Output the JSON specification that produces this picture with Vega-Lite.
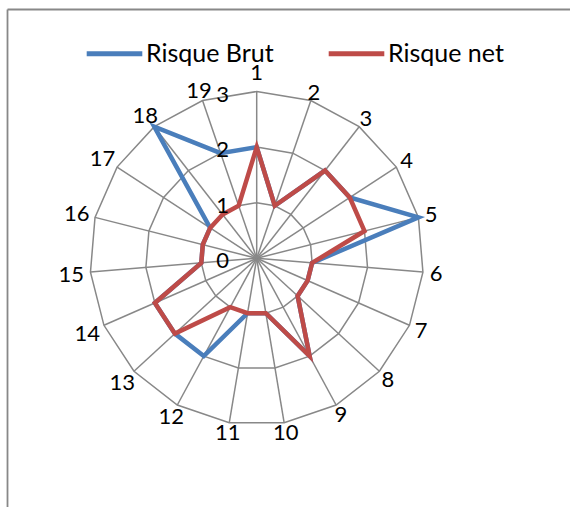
{
  "$schema": "https://vega.github.io/schema/vega-lite/v6.json",
  "width": 570,
  "height": 507,
  "autosize": "none",
  "padding": 0,
  "background": "white",
  "config": {"view": {"stroke": null}, "text": {"font": "Lato", "fontSize": 22, "color": "black"}},
  "datasets": {
    "risques": [
      {"axe": 1, "serie": "Risque Brut", "valeur": 2},
      {"axe": 2, "serie": "Risque Brut", "valeur": 1},
      {"axe": 3, "serie": "Risque Brut", "valeur": 2},
      {"axe": 4, "serie": "Risque Brut", "valeur": 2},
      {"axe": 5, "serie": "Risque Brut", "valeur": 3},
      {"axe": 6, "serie": "Risque Brut", "valeur": 1},
      {"axe": 7, "serie": "Risque Brut", "valeur": 1},
      {"axe": 8, "serie": "Risque Brut", "valeur": 1},
      {"axe": 9, "serie": "Risque Brut", "valeur": 2},
      {"axe": 10, "serie": "Risque Brut", "valeur": 1},
      {"axe": 11, "serie": "Risque Brut", "valeur": 1},
      {"axe": 12, "serie": "Risque Brut", "valeur": 2},
      {"axe": 13, "serie": "Risque Brut", "valeur": 2},
      {"axe": 14, "serie": "Risque Brut", "valeur": 2},
      {"axe": 15, "serie": "Risque Brut", "valeur": 1},
      {"axe": 16, "serie": "Risque Brut", "valeur": 1},
      {"axe": 17, "serie": "Risque Brut", "valeur": 1},
      {"axe": 18, "serie": "Risque Brut", "valeur": 3},
      {"axe": 19, "serie": "Risque Brut", "valeur": 2},
      {"axe": 1, "serie": "Risque net", "valeur": 2},
      {"axe": 2, "serie": "Risque net", "valeur": 1},
      {"axe": 3, "serie": "Risque net", "valeur": 2},
      {"axe": 4, "serie": "Risque net", "valeur": 2},
      {"axe": 5, "serie": "Risque net", "valeur": 2},
      {"axe": 6, "serie": "Risque net", "valeur": 1},
      {"axe": 7, "serie": "Risque net", "valeur": 1},
      {"axe": 8, "serie": "Risque net", "valeur": 1},
      {"axe": 9, "serie": "Risque net", "valeur": 2},
      {"axe": 10, "serie": "Risque net", "valeur": 1},
      {"axe": 11, "serie": "Risque net", "valeur": 1},
      {"axe": 12, "serie": "Risque net", "valeur": 1},
      {"axe": 13, "serie": "Risque net", "valeur": 2},
      {"axe": 14, "serie": "Risque net", "valeur": 2},
      {"axe": 15, "serie": "Risque net", "valeur": 1},
      {"axe": 16, "serie": "Risque net", "valeur": 1},
      {"axe": 17, "serie": "Risque net", "valeur": 1},
      {"axe": 18, "serie": "Risque net", "valeur": 1},
      {"axe": 19, "serie": "Risque net", "valeur": 1}
    ],
    "axes": [
      {"axe": 1, "niveaux": [1, 2, 3]}, {"axe": 2, "niveaux": [1, 2, 3]}, {"axe": 3, "niveaux": [1, 2, 3]},
      {"axe": 4, "niveaux": [1, 2, 3]}, {"axe": 5, "niveaux": [1, 2, 3]}, {"axe": 6, "niveaux": [1, 2, 3]},
      {"axe": 7, "niveaux": [1, 2, 3]}, {"axe": 8, "niveaux": [1, 2, 3]}, {"axe": 9, "niveaux": [1, 2, 3]},
      {"axe": 10, "niveaux": [1, 2, 3]}, {"axe": 11, "niveaux": [1, 2, 3]}, {"axe": 12, "niveaux": [1, 2, 3]},
      {"axe": 13, "niveaux": [1, 2, 3]}, {"axe": 14, "niveaux": [1, 2, 3]}, {"axe": 15, "niveaux": [1, 2, 3]},
      {"axe": 16, "niveaux": [1, 2, 3]}, {"axe": 17, "niveaux": [1, 2, 3]}, {"axe": 18, "niveaux": [1, 2, 3]},
      {"axe": 19, "niveaux": [1, 2, 3]}
    ],
    "graduations": [{"niveau": 0}, {"niveau": 1}, {"niveau": 2}, {"niveau": 3}]
  },
  "layer": [
    {
      "data": {"name": "axes"},
      "transform": [
        {"flatten": ["niveaux"], "as": ["niveau"]},
        {"calculate": "(datum.axe - 1) * 2 * PI / 19", "as": "angle"},
        {"calculate": "datum.niveau * sin(datum.angle)", "as": "gx"},
        {"calculate": "datum.niveau * cos(datum.angle)", "as": "gy"}
      ],
      "mark": {"type": "line", "interpolate": "linear-closed", "stroke": "#888888", "strokeWidth": 1.5},
      "encoding": {
        "x": {"field": "gx", "type": "quantitative", "scale": {"domain": [-4.617, 5.635], "nice": false, "zero": false}, "axis": null},
        "y": {"field": "gy", "type": "quantitative", "scale": {"domain": [-4.473, 4.646], "nice": false, "zero": false}, "axis": null},
        "detail": {"field": "niveau", "type": "nominal"},
        "order": {"field": "axe", "type": "quantitative"}
      }
    },
    {
      "data": {"name": "axes"},
      "transform": [
        {"calculate": "(datum.axe - 1) * 2 * PI / 19", "as": "angle"},
        {"calculate": "3 * sin(datum.angle)", "as": "sx"},
        {"calculate": "3 * cos(datum.angle)", "as": "sy"}
      ],
      "mark": {"type": "rule", "stroke": "#888888", "strokeWidth": 1.5},
      "encoding": {
        "x": {"field": "sx", "type": "quantitative"},
        "y": {"field": "sy", "type": "quantitative"},
        "x2": {"datum": 0},
        "y2": {"datum": 0}
      }
    },
    {
      "data": {"name": "risques"},
      "transform": [
        {"calculate": "(datum.axe - 1) * 2 * PI / 19", "as": "angle"},
        {"calculate": "datum.valeur * sin(datum.angle)", "as": "px"},
        {"calculate": "datum.valeur * cos(datum.angle)", "as": "py"}
      ],
      "mark": {"type": "line", "interpolate": "linear-closed", "strokeWidth": 4.5},
      "encoding": {
        "x": {"field": "px", "type": "quantitative"},
        "y": {"field": "py", "type": "quantitative"},
        "order": {"field": "axe", "type": "quantitative"},
        "color": {
          "field": "serie", "type": "nominal",
          "scale": {"domain": ["Risque Brut", "Risque net"], "range": ["#4A7EBB", "#BE4B48"]},
          "legend": {
            "orient": "none", "legendX": 84, "legendY": 23, "direction": "horizontal", "title": null,
            "symbolType": "stroke", "symbolSize": 3091, "symbolStrokeWidth": 5,
            "labelFont": "Lato", "labelFontSize": 25, "labelColor": "black", "labelOffset": 1,
            "columnPadding": 44, "padding": 0
          }
        }
      }
    },
    {
      "data": {"name": "axes"},
      "transform": [
        {"calculate": "(datum.axe - 1) * 2 * PI / 19", "as": "angle"},
        {"calculate": "(174 + 6 * length(toString(datum.axe)) * abs(sin(datum.angle)) + (datum.axe == 1 ? 12 : 0)) / 55.6", "as": "lr"},
        {"calculate": "datum.lr * sin(datum.angle)", "as": "lx"},
        {"calculate": "datum.lr * cos(datum.angle)", "as": "ly"}
      ],
      "mark": {"type": "text", "align": "center", "baseline": "middle", "dy": 1},
      "encoding": {
        "x": {"field": "lx", "type": "quantitative"},
        "y": {"field": "ly", "type": "quantitative"},
        "text": {"field": "axe", "type": "nominal"}
      }
    },
    {
      "data": {"name": "graduations"},
      "mark": {"type": "text", "align": "center", "baseline": "middle", "dx": -34, "dy": 3},
      "encoding": {
        "x": {"datum": 0},
        "y": {"field": "niveau", "type": "quantitative"},
        "text": {"field": "niveau", "type": "nominal"}
      }
    },
    {
      "data": {"values": [{"bord": "haut"}]},
      "mark": {"type": "rule", "stroke": "#888888", "strokeWidth": 1.8},
      "encoding": {
        "x": {"datum": -4.482},
        "x2": {"datum": 5.7},
        "y": {"datum": 4.475}
      }
    },
    {
      "data": {"values": [{"bord": "gauche"}]},
      "mark": {"type": "rule", "stroke": "#888888", "strokeWidth": 1.8},
      "encoding": {
        "x": {"datum": -4.482},
        "y": {"datum": 4.475},
        "y2": {"datum": -4.6}
      }
    }
  ]
}
